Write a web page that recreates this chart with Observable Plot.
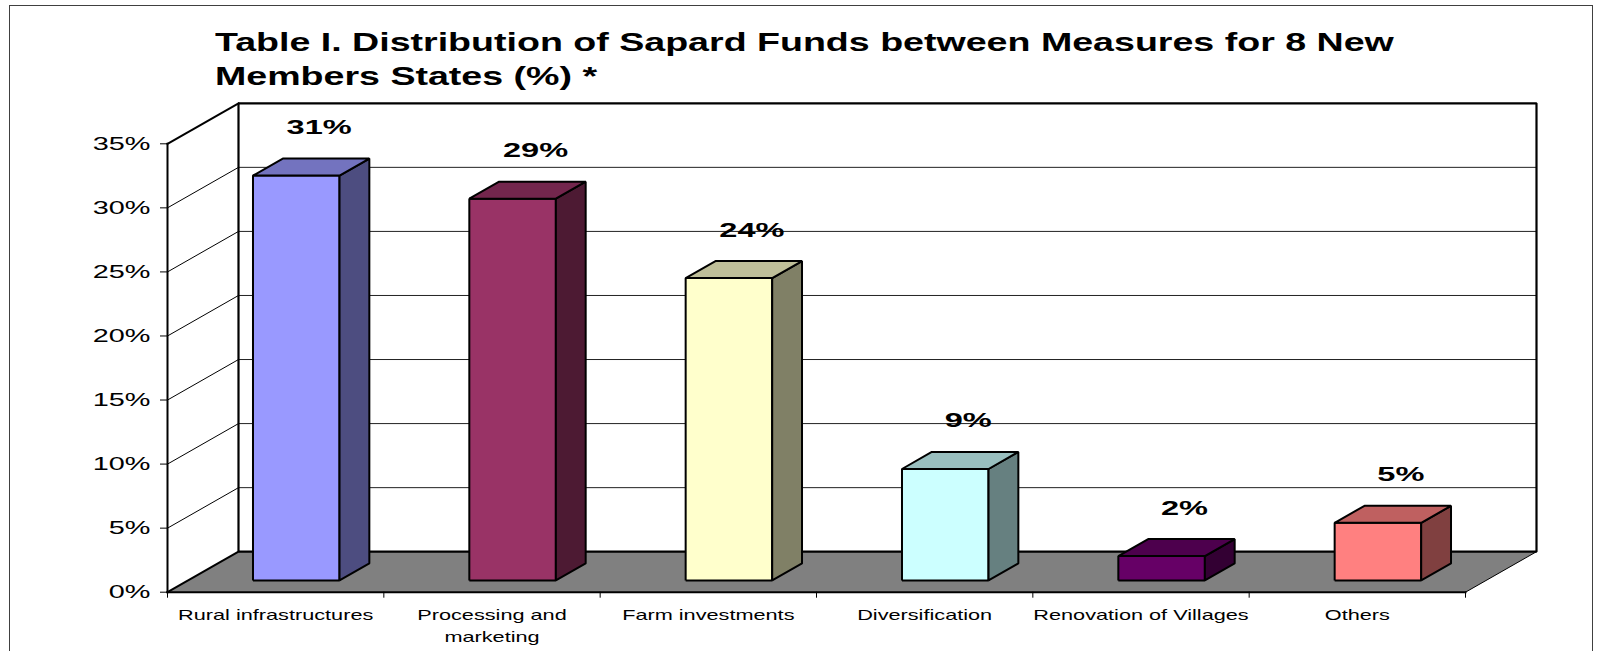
<!DOCTYPE html>
<html><head><meta charset="utf-8">
<script src="https://cdn.jsdelivr.net/npm/d3@7"></script>
<script src="https://cdn.jsdelivr.net/npm/@observablehq/plot@0.6"></script>
<style>
html,body{margin:0;padding:0;background:#fff;width:1599px;height:651px;overflow:hidden;}
#frame{position:absolute;left:9px;top:5px;width:1584px;height:700px;border:1px solid #404040;box-sizing:border-box;}
#title{position:absolute;left:215px;top:25px;font:bold 26px "Liberation Sans",Arial,sans-serif;line-height:34px;white-space:nowrap;transform:scaleX(1.445);transform-origin:0 0;color:#000;}
#chart{position:absolute;left:0;top:95px;}
</style></head><body>
<div id="frame"></div>
<div id="title">Table I. Distribution of Sapard Funds between Measures for 8 New<br>Members States (%) *</div>
<div id="chart"></div>
<script>
const categories = ["Rural infrastructures", "Processing and\nmarketing", "Farm investments", "Diversification", "Renovation of Villages", "Others"];
const values = [31.6, 29.8, 23.6, 8.7, 1.9, 4.5];
const valueLabels = ["31%", "29%", "24%", "9%", "2%", "5%"];
const barColors = ["#9999FF", "#993366", "#FFFFCC", "#CCFFFF", "#660066", "#FF8080"];
const yTicks = [0, 5, 10, 15, 20, 25, 30, 35];

const W = 1599, H = 556;
const M = {top: 48.3, right: 134, bottom: 59.3, left: 167};
const N = categories.length;
const yMax = 35;
const pxX = (W - M.left - M.right) / N;
const pxY = (H - M.top - M.bottom) / yMax;
const DEPTH = [71, 40.5];           // pixel offset of the back plane
const Z0 = 0.29, Z1 = 0.71, HW = 0.2; // bar depth range and half width
const P = (x, y, z) => ({x: x + z * DEPTH[0] / pxX, y: y + z * DEPTH[1] / pxY});
const poly = (pts, opts) => Plot.line([...pts, pts[0]].map(p => P(...p)),
  {x: "x", y: "y", strokeLinejoin: "miter", strokeLinecap: "butt", ...opts});
const seg = (a, b, opts) => Plot.line([P(...a), P(...b)],
  {x: "x", y: "y", strokeLinecap: "square", stroke: "black", ...opts});
const shade = (c, k) => { const r = d3.rgb(c); return d3.rgb(r.r * k, r.g * k, r.b * k).formatHex(); };
const inner = yTicks.filter(t => t > 0 && t < yMax);

const marks = [
  poly([[0,0,0],[0,yMax,0],[0,yMax,1],[0,0,1]], {fill: "white", stroke: "none"}),
  poly([[0,0,1],[N,0,1],[N,yMax,1],[0,yMax,1]], {fill: "white", stroke: "none"}),
  Plot.link(inner, {x1: t => P(0,t,0).x, y1: t => P(0,t,0).y, x2: t => P(0,t,1).x, y2: t => P(0,t,1).y, stroke: "black", strokeWidth: 1}),
  Plot.link(inner, {x1: t => P(0,t,1).x, y1: t => P(0,t,1).y, x2: t => P(N,t,1).x, y2: t => P(N,t,1).y, stroke: "#222", strokeWidth: 1}),
  poly([[0,0,0],[N,0,0],[N,0,1],[0,0,1]], {fill: "#808080", stroke: "none"}),
  poly([[0,0,1],[N,0,1],[N,yMax,1],[0,yMax,1]], {fill: "none", stroke: "black", strokeWidth: 2.2}),
  seg([0,yMax,0], [0,yMax,1], {strokeWidth: 2}),
  seg([0,0,0], [0,0,1], {strokeWidth: 2}),
  seg([N,0,0], [N,0,1], {strokeWidth: 1}),
  seg([0,0,0], [N,0,0], {strokeWidth: 2}),
  seg([0,0,0], [0,yMax,0], {strokeWidth: 2}),
  Plot.axisY({ticks: yTicks, tickSize: 7, tickPadding: 10, tickFormat: d => d + "%", fontSize: 18.6, ariaLabel: "y-axis"}),
  Plot.axisX({ticks: d3.range(N + 1), tickSize: 6, tickFormat: () => "", ariaLabel: "x-axis"}),
  ...categories.flatMap((c, i) => {
    const v = values[i], x0 = i + 0.5 - HW, x1 = i + 0.5 + HW;
    return [
      poly([[x0,0,Z0],[x1,0,Z0],[x1,v,Z0],[x0,v,Z0]], {fill: barColors[i], stroke: "black", strokeWidth: 2}),
      poly([[x1,0,Z0],[x1,0,Z1],[x1,v,Z1],[x1,v,Z0]], {fill: shade(barColors[i], 0.5), stroke: "black", strokeWidth: 2}),
      poly([[x0,v,Z0],[x1,v,Z0],[x1,v,Z1],[x0,v,Z1]], {fill: shade(barColors[i], 0.75), stroke: "black", strokeWidth: 2})
    ];
  }),
  Plot.text(categories, {x: (d, i) => i + 0.5, y: 0, text: d => d, lineAnchor: "top", dy: 12, fontSize: 14, lineHeight: 1.57, ariaLabel: "category label"}),
  Plot.text(values, {x: (d, i) => P(i + 0.5, d, 0.5).x, y: (d, i) => P(i + 0.5, d, 0.5).y, text: (d, i) => valueLabels[i],
    dx: 8, dy: -33, lineAnchor: "bottom", fontSize: 21, fontWeight: "bold", ariaLabel: "value label"})
];

const svg = Plot.plot({
  width: W, height: H,
  marginTop: M.top, marginRight: M.right, marginBottom: M.bottom, marginLeft: M.left,
  x: {domain: [0, N], label: null},
  y: {domain: [0, yMax], label: null},
  style: {fontFamily: '"Liberation Sans", Arial, sans-serif', color: "black", background: "transparent", overflow: "visible"},
  marks
});

const stretch = {"category label": 1.5, "value label": 1.45};
svg.querySelectorAll("text").forEach(t => {
  const g = t.closest("g[aria-label]");
  const s = (g && stretch[g.getAttribute("aria-label")]) || 1.55;
  const tr = t.getAttribute("transform");
  if (tr && /translate/.test(tr)) t.setAttribute("transform", tr + ` scale(${s},1)`);
  else {
    const x = +t.getAttribute("x") || 0;
    t.setAttribute("transform", `translate(${x},0) scale(${s},1) translate(${-x},0)`);
  }
});
document.getElementById("chart").appendChild(svg);
</script></body></html>
